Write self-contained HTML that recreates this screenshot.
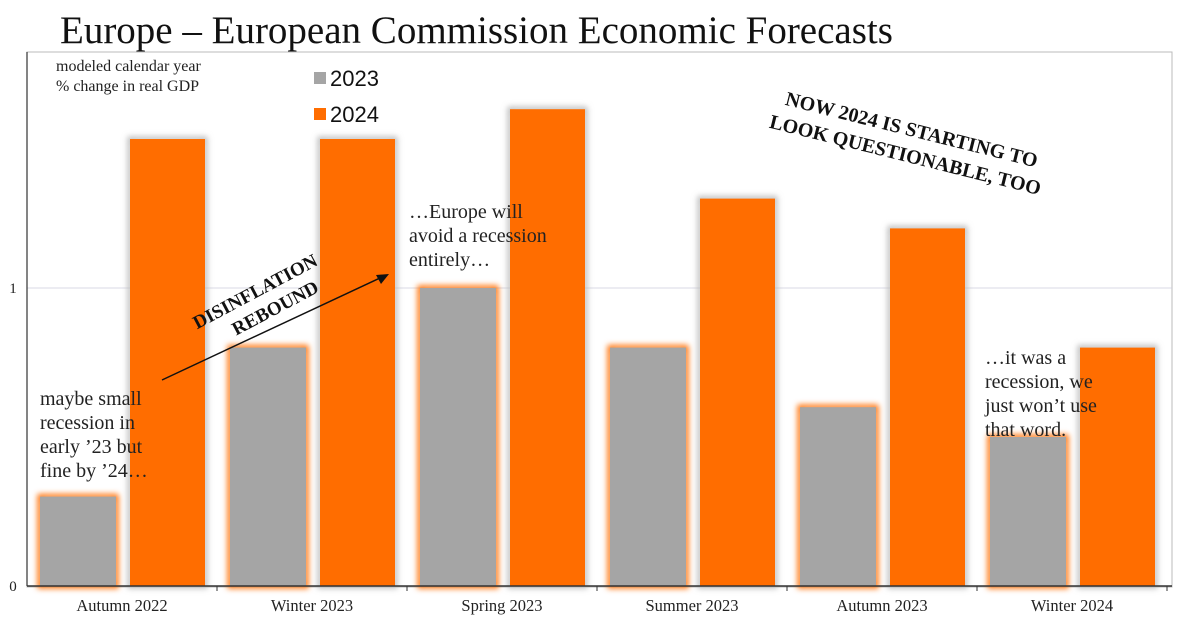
<!DOCTYPE html>
<html><head><meta charset="utf-8"><style>
body{margin:0;background:#fff;width:1190px;height:625px;overflow:hidden;font-family:"Liberation Serif",serif}
svg{position:absolute;left:0;top:0}
</style></head><body>
<svg width="1190" height="625">
<defs><filter id="glow" x="-30%" y="-30%" width="160%" height="160%"><feGaussianBlur stdDeviation="3"/></filter></defs>
<text x="60" y="43" font-size="39" font-family="Liberation Serif" fill="#111">Europe – European Commission Economic Forecasts</text>
<rect x="27" y="52" width="1145" height="535" fill="none" stroke="#bbb" stroke-width="1"/>
<g id="grid"></g>
<g id="bars"></g>
<g id="axes"></g>
<text x="56" y="71" font-size="16" fill="#222">modeled calendar year</text>
<text x="56" y="91" font-size="16" fill="#222">% change in real GDP</text>
<rect x="314" y="72" width="12" height="12" fill="#a5a5a5"/>
<text x="330" y="86" font-size="22" font-family="Liberation Sans" fill="#111">2023</text>
<rect x="314" y="108" width="12" height="12" fill="#ff6d00"/>
<text x="330" y="122" font-size="22" font-family="Liberation Sans" fill="#111">2024</text>
<g font-size="20" fill="#222">
<text x="40" y="405">maybe small</text><text x="40" y="429">recession in</text><text x="40" y="453">early ’23 but</text><text x="40" y="477">fine by ’24…</text></g>
<g font-size="20" fill="#222">
<text x="409" y="218">…Europe will</text><text x="409" y="242">avoid a recession</text><text x="409" y="266">entirely…</text></g>
<g font-size="20" fill="#222">
<text x="985" y="364">…it was a</text><text x="985" y="388">recession, we</text><text x="985" y="412">just won’t use</text><text x="985" y="436">that word.</text></g>
<g transform="translate(258,297) rotate(-28)" font-size="19" font-weight="bold" text-anchor="middle" fill="#111">
<text x="0" y="0">DISINFLATION</text><text x="10" y="24">REBOUND</text></g>
<line x1="162" y1="380" x2="382" y2="277" stroke="#111" stroke-width="1.5"/>
<polygon points="389,274 376,275 381,284" fill="#111"/>
<g transform="translate(910,136) rotate(14)" font-size="20" font-weight="bold" text-anchor="middle" fill="#111">
<text x="0" y="0">NOW 2024 IS STARTING TO</text><text x="0" y="26">LOOK QUESTIONABLE, TOO</text></g>
</svg>
<script>
const categories=["Autumn 2022","Winter 2023","Spring 2023","Summer 2023","Autumn 2023","Winter 2024"];
const values2023=[0.3,0.8,1.0,0.8,0.6,0.5];
const values2024=[1.5,1.5,1.6,1.3,1.2,0.8];
const yTicks=[0,1];
const NS="http://www.w3.org/2000/svg";
const x0=27,groupW=190,y0=586,unit=298;
const y=v=>y0-v*unit;
function mk(tag,attrs,parent){const e=document.createElementNS(NS,tag);for(const k in attrs)e.setAttribute(k,attrs[k]);parent.appendChild(e);return e;}
const bars=document.getElementById('bars'),axes=document.getElementById('axes'),grid=document.getElementById('grid');
yTicks.forEach(t=>{
 if(t>0){const g=mk('line',{x1:x0,x2:1172,y1:y(t),y2:y(t),stroke:'#ccd',"stroke-width":0.8},grid);
 
 }
 const l=mk('text',{x:13,y:y(t)+5,"font-size":15,"text-anchor":"middle",fill:'#222'},axes);l.textContent=t;
 
 
});
categories.forEach((c,i)=>{
 const gx=x0+i*groupW;
 const h1=y0-y(values2023[i]);
 const gl=mk('rect',{x:gx+13,y:y(values2023[i]),width:76,height:h1,fill:'none',stroke:'#ff6d00',"stroke-width":5,filter:'url(#glow)'},bars);
 
 
 const b1=mk('rect',{x:gx+13,y:y(values2023[i]),width:76,height:h1,fill:'#a5a5a5'},bars);
 
 
 const h2=y0-y(values2024[i]);
 const g2=mk('rect',{x:gx+103,y:y(values2024[i]),width:75,height:h2,fill:'none',stroke:'#bbb',"stroke-width":5,filter:'url(#glow)'},bars);
 
 
 const b2=mk('rect',{x:gx+103,y:y(values2024[i]),width:75,height:h2,fill:'#ff6d00'},bars);
 
 
 const t=mk('text',{x:gx+groupW/2,y:611,"font-size":16.5,"text-anchor":"middle",fill:'#222'},axes);t.textContent=c;
 
 
 const tk=mk('line',{x1:gx+groupW,x2:gx+groupW,y1:y0,y2:y0+5,stroke:'#333'},axes);
 
 
});
const ax=mk('line',{x1:x0,x2:1172,y1:y0,y2:y0,stroke:'#333',"stroke-width":1.5},axes);


const ay=mk('line',{x1:x0,x2:x0,y1:52,y2:y0,stroke:'#333',"stroke-width":1.2},axes);


</script>
</body></html>
